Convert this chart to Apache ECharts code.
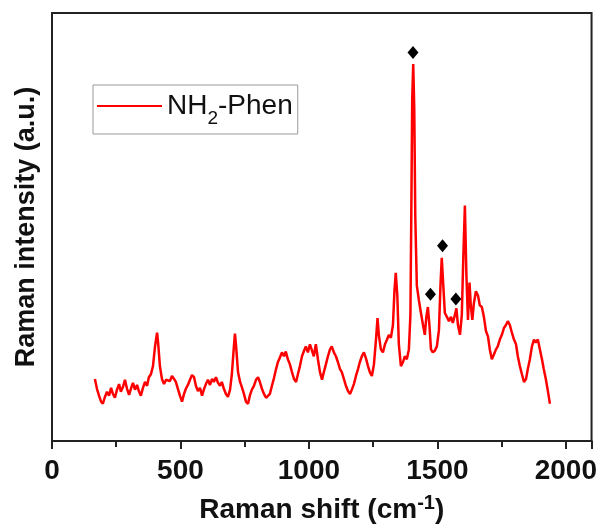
<!DOCTYPE html>
<html>
<head>
<meta charset="utf-8">
<script src="https://cdn.jsdelivr.net/npm/echarts@6/dist/echarts.min.js"></script>
<style>
html,body{margin:0;padding:0;background:#fff;}
#chart{width:600px;height:529px;}
</style>
</head>
<body>
<div id="chart"></div>
<script>
// Raman shift (cm-1)
const ramanShift = [167,175,183,191,198,206,214,222,230,237,245,253,261,268,276,284,292,300,307,315,323,331,339,346,354,362,370,377,385,393,401,409,413,420,428,436,444,451,459,467,475,482,490,498,506,514,521,529,537,545,553,560,568,576,584,591,599,607,615,623,630,638,646,654,661,669,677,685,693,700,708,712,716,724,732,739,747,755,763,770,778,786,794,802,809,817,825,833,840,848,856,864,872,879,887,895,903,910,918,926,934,942,950,957,965,973,981,988,996,1004,1012,1019,1027,1035,1043,1051,1058,1066,1074,1082,1089,1097,1105,1113,1121,1128,1136,1144,1152,1160,1167,1175,1183,1191,1198,1206,1214,1222,1230,1237,1245,1253,1261,1267,1272,1280,1288,1296,1304,1311,1319,1327,1333,1338,1344,1350,1358,1366,1373,1381,1389,1395,1399,1402,1406,1410,1414,1420,1428,1436,1444,1451,1457,1463,1469,1475,1482,1490,1498,1506,1512,1517,1523,1529,1537,1545,1553,1560,1568,1574,1580,1588,1595,1601,1607,1613,1619,1625,1630,1636,1642,1650,1658,1665,1673,1681,1689,1697,1704,1712,1720,1728,1735,1743,1751,1759,1767,1774,1782,1790,1798,1806,1813,1821,1829,1837,1845,1852,1860,1868,1876,1883,1891,1899,1907,1914,1922,1930,1938];
// Raman intensity (a.u.)
const intensity = [14.5,12.2,10.6,9.2,8.7,10.3,11.5,10.6,12.4,11.0,10.1,12.0,13.3,11.5,12.6,14.3,12.2,10.8,12.2,13.6,12.0,13.1,11.5,10.6,12.4,13.8,12.9,14.9,15.6,17.5,22.1,25.3,23.0,17.5,14.5,13.3,14.3,14.7,14.0,15.2,14.5,13.8,12.2,10.6,9.2,11.0,12.2,13.1,14.3,15.4,14.9,12.9,11.7,12.4,10.6,12.0,13.3,14.3,13.1,14.5,13.8,14.9,13.6,12.9,13.8,12.2,11.0,10.3,12.0,15.6,22.1,25.1,22.6,16.1,13.8,12.6,11.0,9.2,8.7,10.6,12.0,12.9,14.3,14.9,13.8,12.2,11.0,10.1,9.7,11.0,12.9,14.7,16.8,18.4,19.5,20.7,19.8,20.9,19.1,17.9,16.1,14.5,13.8,15.6,17.5,19.8,21.1,22.1,20.7,22.6,21.1,19.8,22.6,19.1,16.1,14.3,16.1,17.9,19.8,21.4,22.1,20.7,19.8,18.4,16.8,16.1,14.5,12.9,11.7,11.0,12.0,13.3,15.2,16.8,18.4,19.8,20.7,19.3,17.5,16.1,15.2,17.9,23.7,28.7,24.8,21.4,20.7,22.6,23.7,24.8,24.1,27.1,35.2,39.3,34.0,22.6,17.5,18.4,19.8,19.1,21.4,29.4,57.0,80.0,88.1,77.7,52.4,36.3,32.9,29.9,27.1,24.8,29.0,31.3,27.1,21.4,20.7,21.1,22.1,25.9,36.3,42.8,36.3,29.9,29.0,28.0,29.0,27.6,29.4,31.0,27.1,24.8,29.4,43.2,55.0,38.6,28.3,37.0,31.7,28.3,32.2,35.0,34.0,31.7,31.3,29.0,25.7,24.4,21.4,19.1,20.2,21.4,22.1,23.7,24.8,26.4,27.1,28.0,27.1,25.3,23.7,22.6,19.8,17.5,15.6,13.8,14.5,16.8,19.1,22.1,23.7,23.0,23.7,21.4,19.1,16.8,14.5,11.7,8.7];
// Peak markers (diamonds)
const markerShift = [1405,1473,1520,1572];
const markerIntensity = [90.8,34.3,45.6,33.2];
const xTickLabels = ['0','500','1000','1500','2000'];

const lineData = ramanShift.map((x, i) => [x, intensity[i]]);
const markerData = markerShift.map((x, i) => [x, markerIntensity[i]]);
const FONT = '"Liberation Sans", Arial, Helvetica, sans-serif';

const chart = echarts.init(document.getElementById('chart'), null, {renderer: 'canvas'});
chart.setOption({
  animation: false,
  backgroundColor: '#ffffff',
  grid: {left: 52, top: 13, right: 8, bottom: 81, show: true, borderColor: '#222', borderWidth: 2, containLabel: false},
  legend: {
    left: 93, top: 85,
    padding: [7, 5, 6, 4],
    borderColor: '#999', borderWidth: 1,
    icon: 'rect', itemWidth: 65, itemHeight: 2, itemGap: 6,
    data: ['NH2-Phen'],
    formatter: () => '{a|NH}{s|2}{a|-Phen}',
    textStyle: {
      fontFamily: FONT, color: '#111',
      rich: {
        a: {fontSize: 28, fontFamily: FONT, color: '#111'},
        s: {fontSize: 19, fontFamily: FONT, color: '#111', verticalAlign: 'bottom', padding: [0, 0, -8, 0]}
      }
    }
  },
  xAxis: {
    type: 'value', min: 0, max: 2100, interval: 500,
    name: '{a|Raman shift (cm}{s|-1}{a|)}',
    nameLocation: 'middle', nameGap: 52,
    nameTextStyle: {
      rich: {
        a: {fontSize: 28, fontWeight: 'bold', fontFamily: FONT, color: '#111'},
        s: {fontSize: 20, fontWeight: 'bold', fontFamily: FONT, color: '#111', verticalAlign: 'top', padding: [0, 0, 14, 0]}
      }
    },
    axisLine: {show: true, onZero: false, lineStyle: {color: '#222', width: 2}},
    axisTick: {show: true, inside: false, length: 8, lineStyle: {color: '#222', width: 2}},
    minorTick: {show: true, splitNumber: 2, length: 6, lineStyle: {color: '#222', width: 2}},
    axisLabel: {
      margin: 16, fontSize: 28, fontWeight: 'bold', fontFamily: FONT, color: '#111',
      formatter: v => (v % 500 === 0 ? xTickLabels[v / 500] : '')
    },
    splitLine: {show: false}
  },
  yAxis: {
    type: 'value', min: 0, max: 100,
    name: 'Raman intensity (a.u.)',
    nameLocation: 'middle', nameGap: 12,
    nameTextStyle: {fontSize: 27, fontWeight: 'bold', fontFamily: FONT, color: '#111'},
    axisLine: {show: true, lineStyle: {color: '#222', width: 2}},
    axisTick: {show: false},
    axisLabel: {show: false},
    splitLine: {show: false}
  },
  series: [
    {
      name: 'NH2-Phen', type: 'line', data: lineData,
      showSymbol: false, symbol: 'none',
      lineStyle: {color: '#ff0000', width: 2.5},
      itemStyle: {color: '#ff0000'}
    },
    {
      name: 'markers', type: 'scatter', data: markerData,
      symbol: 'diamond', symbolSize: [11, 13],
      itemStyle: {color: '#000', opacity: 1}
    }
  ]
});
</script>
</body>
</html>
